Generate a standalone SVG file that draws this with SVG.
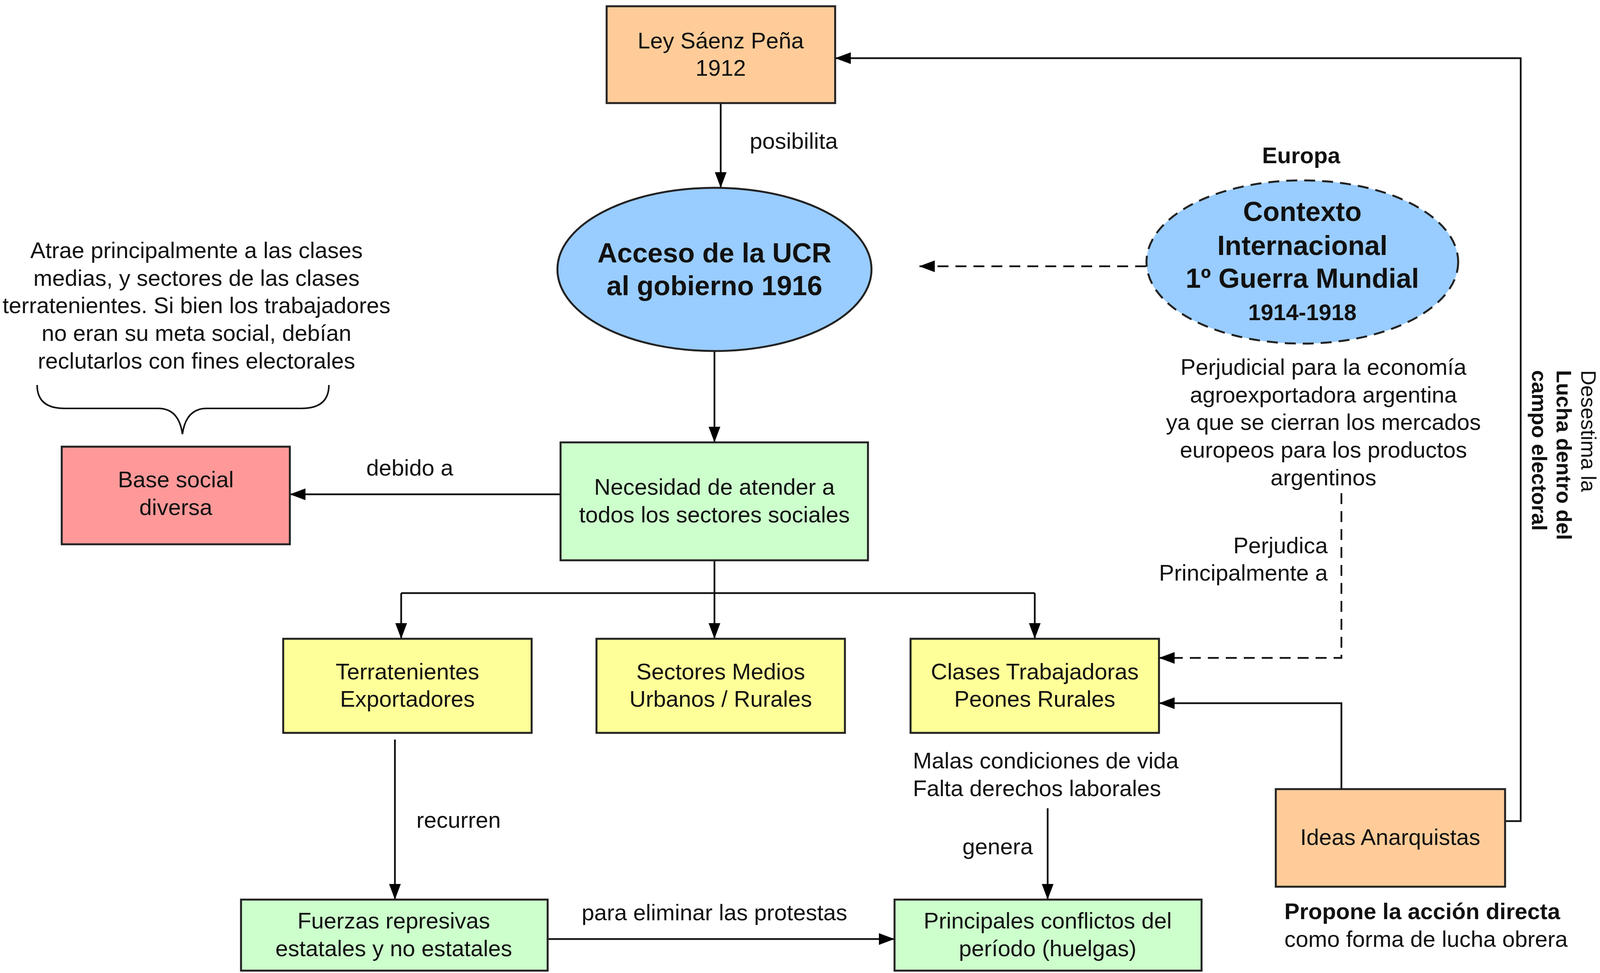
<svg xmlns="http://www.w3.org/2000/svg" width="4260" height="2492" viewBox="0 0 4260 2492">
<style>
.bg{fill:#ffffff}
.box{stroke:#222;stroke-width:5}
.t{font-family:"Liberation Sans",Arial,sans-serif;font-size:58px;fill:#111;text-anchor:middle}
.b{font-weight:bold}
.big{font-size:70px}
.l{text-anchor:start}
.r{text-anchor:end}
.v{font-size:54px}
.c{fill:none;stroke:#111;stroke-width:4.5}
.d{stroke-dasharray:28 18}
</style>
<defs>
<marker id="ah" viewBox="0 0 40 30" refX="40" refY="15" markerWidth="40" markerHeight="30" markerUnits="userSpaceOnUse" orient="auto">
<path d="M0,0 L40,15 L0,30 z" fill="#000"/>
</marker>
</defs>
<rect class="bg" x="0" y="0" width="4260" height="2492"/>

<g id="connectors">
<path class="c" d="M1845,264 L1845,481" marker-end="url(#ah)"/>
<path class="c d" d="M2934,682 L2353,682" marker-end="url(#ah)"/>
<path class="c" d="M1829,899 L1829,1133" marker-end="url(#ah)"/>
<path class="c" d="M1435,1266 L742,1266" marker-end="url(#ah)"/>
<path class="c" d="M1829,1435 L1829,1519"/>
<path class="c" d="M1027,1519 L2649,1519"/>
<path class="c" d="M1027,1519 L1027,1636" marker-end="url(#ah)"/>
<path class="c" d="M1829,1519 L1829,1636" marker-end="url(#ah)"/>
<path class="c" d="M2649,1519 L2649,1636" marker-end="url(#ah)"/>
<path class="c d" d="M3434,1263 L3434,1685 L2967,1685" marker-end="url(#ah)"/>
<path class="c" d="M3434,2021 L3434,1801 L2967,1801" marker-end="url(#ah)"/>
<path class="c" d="M3853,2103 L3893,2103 L3893,149 L2138,149" marker-end="url(#ah)"/>
<path class="c" d="M1011,1894 L1011,2304" marker-end="url(#ah)"/>
<path class="c" d="M2682,2070 L2682,2304" marker-end="url(#ah)"/>
<path class="c" d="M1402,2405 L2290,2405" marker-end="url(#ah)"/>
<path class="c" style="stroke-width:4" d="M95,986 Q95,1046 165,1046 L405,1046 Q458,1046 467,1112 Q476,1046 529,1046 L772,1046 Q842,1046 842,986"/>
</g>

<g id="ley">
<rect class="box" x="1553" y="16" width="585" height="248" fill="#FFCC99"/>
<text class="t" x="1845" y="124">Ley Sáenz Peña</text>
<text class="t" x="1845" y="194">1912</text>
</g>
<text class="t" x="2032" y="381">posibilita</text>

<g id="acceso">
<ellipse class="box" cx="1829" cy="690" rx="402" ry="209" fill="#99CCFF"/>
<text class="t b big" x="1829" y="672">Acceso de la UCR</text>
<text class="t b big" x="1829" y="756">al gobierno 1916</text>
</g>

<g id="contexto">
<text class="t b" x="3331" y="418">Europa</text>
<ellipse class="box d" cx="3334" cy="671" rx="399" ry="209" fill="#99CCFF"/>
<text class="t b big" x="3334" y="566">Contexto</text>
<text class="t b big" x="3334" y="653">Internacional</text>
<text class="t b big" x="3334" y="737">1º Guerra Mundial</text>
<text class="t b" x="3334" y="820">1914-1918</text>
</g>

<g id="perjudicial">
<text class="t" x="3388" y="960">Perjudicial para la economía</text>
<text class="t" x="3388" y="1031">agroexportadora argentina</text>
<text class="t" x="3388" y="1101">ya que se cierran los mercados</text>
<text class="t" x="3388" y="1172">europeos para los productos</text>
<text class="t" x="3388" y="1243">argentinos</text>
<text class="t r" x="3399" y="1417">Perjudica</text>
<text class="t r" x="3399" y="1487">Principalmente a</text>
</g>

<g id="atrae">
<text class="t" x="503" y="661">Atrae principalmente a las clases</text>
<text class="t" x="503" y="732">medias, y sectores de las clases</text>
<text class="t" x="503" y="802">terratenientes. Si bien los trabajadores</text>
<text class="t" x="503" y="873">no eran su meta social, debían</text>
<text class="t" x="503" y="944">reclutarlos con fines electorales</text>
</g>

<g id="base">
<rect class="box" x="158" y="1144" width="584" height="250" fill="#FF9999"/>
<text class="t" x="450" y="1248">Base social</text>
<text class="t" x="450" y="1319">diversa</text>
</g>
<text class="t" x="1049" y="1218">debido a</text>

<g id="necesidad">
<rect class="box" x="1435" y="1133" width="787" height="302" fill="#CCFFCC"/>
<text class="t" x="1829" y="1267">Necesidad de atender a</text>
<text class="t" x="1829" y="1338">todos los sectores sociales</text>
</g>

<g id="terratenientes">
<rect class="box" x="725" y="1636" width="636" height="241" fill="#FFFF99"/>
<text class="t" x="1043" y="1740">Terratenientes</text>
<text class="t" x="1043" y="1810">Exportadores</text>
</g>

<g id="sectores">
<rect class="box" x="1527" y="1636" width="636" height="241" fill="#FFFF99"/>
<text class="t" x="1845" y="1740">Sectores Medios</text>
<text class="t" x="1845" y="1810">Urbanos / Rurales</text>
</g>

<g id="clases">
<rect class="box" x="2331" y="1636" width="636" height="241" fill="#FFFF99"/>
<text class="t" x="2649" y="1740">Clases Trabajadoras</text>
<text class="t" x="2649" y="1810">Peones Rurales</text>
</g>

<g id="malas">
<text class="t l" x="2337" y="1968">Malas condiciones de vida</text>
<text class="t l" x="2337" y="2039">Falta derechos laborales</text>
</g>
<text class="t" x="2554" y="2188">genera</text>
<text class="t" x="1174" y="2120">recurren</text>

<g id="ideas">
<rect class="box" x="3266" y="2021" width="587" height="250" fill="#FFCC99"/>
<text class="t" x="3559" y="2164">Ideas Anarquistas</text>
</g>
<g id="propone">
<text class="t l b" x="3288" y="2354">Propone la acción directa</text>
<text class="t l" x="3288" y="2425">como forma de lucha obrera</text>
</g>

<g id="desestima">
<text class="t l v" transform="translate(4048,948) rotate(90)">Desestima la</text>
<text class="t l b v" transform="translate(3985,948) rotate(90)">Lucha dentro del</text>
<text class="t l b v" transform="translate(3922,948) rotate(90)">campo electoral</text>
</g>

<g id="fuerzas">
<rect class="box" x="617" y="2304" width="785" height="182" fill="#CCFFCC"/>
<text class="t" x="1008" y="2378">Fuerzas represivas</text>
<text class="t" x="1008" y="2449">estatales y no estatales</text>
</g>
<text class="t" x="1829" y="2357">para eliminar las protestas</text>

<g id="principales">
<rect class="box" x="2290" y="2304" width="786" height="182" fill="#CCFFCC"/>
<text class="t" x="2682" y="2378">Principales conflictos del</text>
<text class="t" x="2682" y="2449">período (huelgas)</text>
</g>
</svg>
